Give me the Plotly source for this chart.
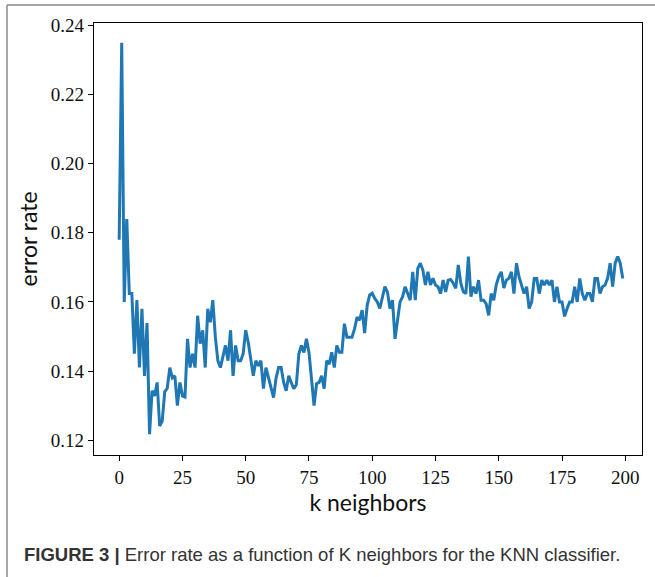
import plotly.graph_objects as go

# ---- data ----
k_values = list(range(0, 200))

error_seg_a = [0.178, 0.235, 0.160, 0.184, 0.1624, 0.1624, 0.145, 0.1605, 0.141, 0.158,
               0.1386, 0.1539, 0.1217, 0.1343, 0.1328, 0.1367, 0.1241, 0.1255, 0.134, 0.135,
               0.141, 0.138, 0.1386, 0.130, 0.1367, 0.1328, 0.1325, 0.1493, 0.141, 0.145,
               0.141, 0.156, 0.1479, 0.1518, 0.141, 0.158, 0.1541, 0.1605, 0.1498, 0.143,
               0.141, 0.144, 0.1474, 0.143, 0.1518, 0.1386, 0.1474, 0.143, 0.143, 0.145]
error_seg_b = [0.1518, 0.1483, 0.144, 0.1386, 0.143, 0.1415, 0.143, 0.1349, 0.141, 0.138,
               0.1357, 0.1323, 0.138, 0.141, 0.141, 0.1367, 0.1343, 0.1386, 0.1367, 0.1349,
               0.136, 0.145, 0.1474, 0.1454, 0.1493, 0.1454, 0.1378, 0.130, 0.1363, 0.1367,
               0.1386, 0.1349, 0.143, 0.142, 0.1454, 0.141, 0.1474, 0.1454, 0.1454, 0.1537,
               0.1498, 0.1498, 0.1498, 0.1522, 0.1556, 0.1547, 0.1576, 0.151, 0.159, 0.162,
               0.1625, 0.161]
error_seg_c = [0.160, 0.1581, 0.1615, 0.1644, 0.1629, 0.1581, 0.1605, 0.1493, 0.1547, 0.160,
               0.1615, 0.1644, 0.1624, 0.1605, 0.1687, 0.1605, 0.1697, 0.1712, 0.1692, 0.1649,
               0.1687, 0.1649, 0.1668, 0.1649, 0.1644, 0.1624, 0.1663, 0.1629, 0.1663, 0.1665,
               0.1654, 0.1639, 0.1707, 0.1654, 0.1629, 0.1624, 0.1731, 0.1615, 0.1644, 0.1624,
               0.1663, 0.1605, 0.1605, 0.1595, 0.1561, 0.1624, 0.1605, 0.1649, 0.1673, 0.1687]
error_seg_d = [0.164, 0.1663, 0.1668, 0.1687, 0.1624, 0.1712, 0.1673, 0.1649, 0.1624, 0.1644,
               0.1581, 0.160, 0.1668, 0.1668, 0.1624, 0.1663, 0.1649, 0.1663, 0.1649, 0.1663,
               0.160, 0.1644, 0.160, 0.160, 0.1558, 0.1581, 0.160, 0.160, 0.1644, 0.160,
               0.1668, 0.1624, 0.1605, 0.1624, 0.1624, 0.160, 0.1668, 0.1668, 0.1624,
               0.1644, 0.1649, 0.1668, 0.1712, 0.1644, 0.1712, 0.1731, 0.1712, 0.1668]

error_rate = error_seg_a + error_seg_b + error_seg_c + error_seg_d

x_tick_vals = [0, 25, 50, 75, 100, 125, 150, 175, 200]
y_tick_vals = [0.12, 0.14, 0.16, 0.18, 0.20, 0.22, 0.24]
y_tick_text = ["0.12", "0.14", "0.16", "0.18", "0.20", "0.22", "0.24"]

x_title = "k neighbors"
y_title = "error rate"
caption_bold = "FIGURE 3 |"
caption_rest = " Error rate as a function of K neighbors for the KNN classifier."

n = min(len(k_values), len(error_rate))
xs = k_values[:n]
ys = error_rate[:n]

fig = go.Figure()
fig.add_trace(go.Scatter(x=xs, y=ys, mode="lines",
                         line=dict(color="#1f77b4", width=3),
                         hoverinfo="skip", showlegend=False))

W, H = 655, 577
ML, MR, MT, MB = 94, 13, 23, 122
PW, PH = W - ML - MR, H - MT - MB

def px_x(p):
    return (p - ML) / PW

def px_y(p):
    return (H - MB - p) / PH

axis_common = dict(showline=True, linecolor="black", linewidth=1.3, mirror=True,
                   ticks="outside", ticklen=5, tickwidth=1.2, tickcolor="black",
                   showgrid=False, zeroline=False, automargin=False,
                   tickfont=dict(family="Liberation Serif, DejaVu Serif, serif", size=19, color="#111"))

fig.update_layout(
    width=W, height=H,
    margin=dict(l=ML, r=MR, t=MT, b=MB, pad=0, autoexpand=False),
    paper_bgcolor="white", plot_bgcolor="white",
    xaxis=dict(range=[-9.95, 206.6], tickvals=x_tick_vals,
               title=dict(text=x_title, standoff=6,
                          font=dict(family="Lato, Open Sans, sans-serif", size=23, color="#111")),
               **axis_common),
    yaxis=dict(range=[0.1157, 0.2407], tickvals=y_tick_vals, ticktext=y_tick_text,
               title=dict(text=y_title, standoff=6,
                          font=dict(family="Lato, Open Sans, sans-serif", size=23, color="#111")),
               **axis_common),
)

# caption
fig.add_annotation(xref="paper", yref="paper", x=px_x(22), y=px_y(554),
                   xanchor="left", yanchor="middle", showarrow=False,
                   text="<b>" + caption_bold + "</b>" + caption_rest,
                   font=dict(family="Liberation Sans Narrow, Liberation Sans, Arial, sans-serif",
                             size=18.5, color="#333"))

# outer figure frame (top and left edges)
frame_color = "#8a8a8a"
fig.add_shape(type="line", xref="paper", yref="paper",
              x0=px_x(7), x1=px_x(660), y0=px_y(5), y1=px_y(5),
              line=dict(color=frame_color, width=1.5))
fig.add_shape(type="line", xref="paper", yref="paper",
              x0=px_x(7), x1=px_x(7), y0=px_y(5), y1=px_y(585),
              line=dict(color=frame_color, width=1.5))

fig.write_html("out.html",
               config={"displayModeBar": False},
               post_script="document.body.style.margin='0';document.body.style.padding='0';")
